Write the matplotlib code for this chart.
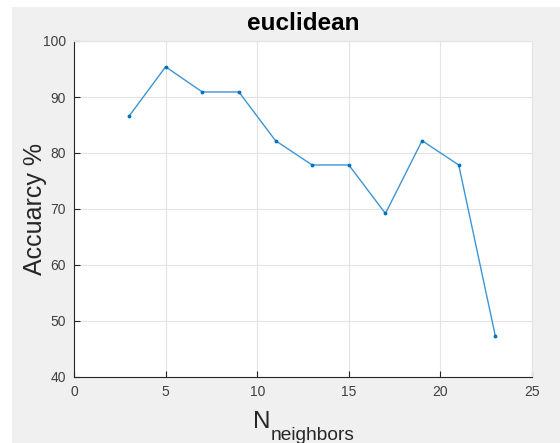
import matplotlib
matplotlib.use("Agg")
import matplotlib.pyplot as plt
from matplotlib.patches import Rectangle

# k-NN accuracy versus number of neighbours (euclidean distance)
neighbors = [3, 5, 7, 9, 11, 13, 15, 17, 19, 21, 23]
accuracy = [86.55, 95.4, 90.9, 90.9, 82.2, 77.86, 77.86, 69.2, 82.2, 77.86, 47.3]

x_ticks = [0, 5, 10, 15, 20, 25]
y_ticks = [40, 50, 60, 70, 80, 90, 100]

plt.rcParams["font.family"] = ["Liberation Sans", "DejaVu Sans"]

W, H = 560, 443
fig = plt.figure(figsize=(W / 100, H / 100), dpi=100, facecolor="white")

# grey window background (inset from the top-left edge)
fig.patches.append(Rectangle((12 / W, 0), 1 - 12 / W, (H - 7) / H,
                             transform=fig.transFigure, facecolor="#f0f0f0",
                             edgecolor="none", zorder=-10))

left, right, top, bottom = 74, 532, 41, 377
ax = fig.add_axes([left / W, 1 - bottom / H, (right - left) / W, (bottom - top) / H])
ax.set_facecolor("white")

axis_col = "#262626"
tick_col = "#404040"
grid_col = "#e3e3e3"

ax.plot(neighbors, accuracy, color="#3d95d3", lw=1.0, marker=".",
        markersize=3.5, markerfacecolor="#0072BD", markeredgecolor="#0072BD",
        zorder=3)

ax.set_xlim(0, 25)
ax.set_ylim(40, 100)
ax.set_xticks(x_ticks)
ax.set_yticks(y_ticks)
ax.grid(True, color=grid_col, lw=0.8)
ax.set_axisbelow(True)

for s in ("left", "bottom"):
    ax.spines[s].set_color(axis_col)
    ax.spines[s].set_linewidth(0.8)
for s in ("top", "right"):
    ax.spines[s].set_color(grid_col)
    ax.spines[s].set_linewidth(0.8)

ax.tick_params(direction="in", length=4, width=0.8, color=axis_col,
               labelcolor=tick_col, labelsize=10, pad=6,
               top=False, right=False)

ax.set_title("euclidean", fontsize=17.5, fontweight="bold", color="black", pad=8)

ax.set_ylabel("Accuarcy %", fontsize=18, color=axis_col, labelpad=-3)

# x label: large N with a subscript
fig.text(253 / W, 1 - 428 / H, "N", fontsize=17.5, color=axis_col,
         ha="left", va="baseline")
fig.text(271 / W, 1 - 440.5 / H, "neighbors", fontsize=13.8, color=axis_col,
         ha="left", va="baseline")

fig.savefig("out.png", dpi=100, facecolor=fig.get_facecolor())
